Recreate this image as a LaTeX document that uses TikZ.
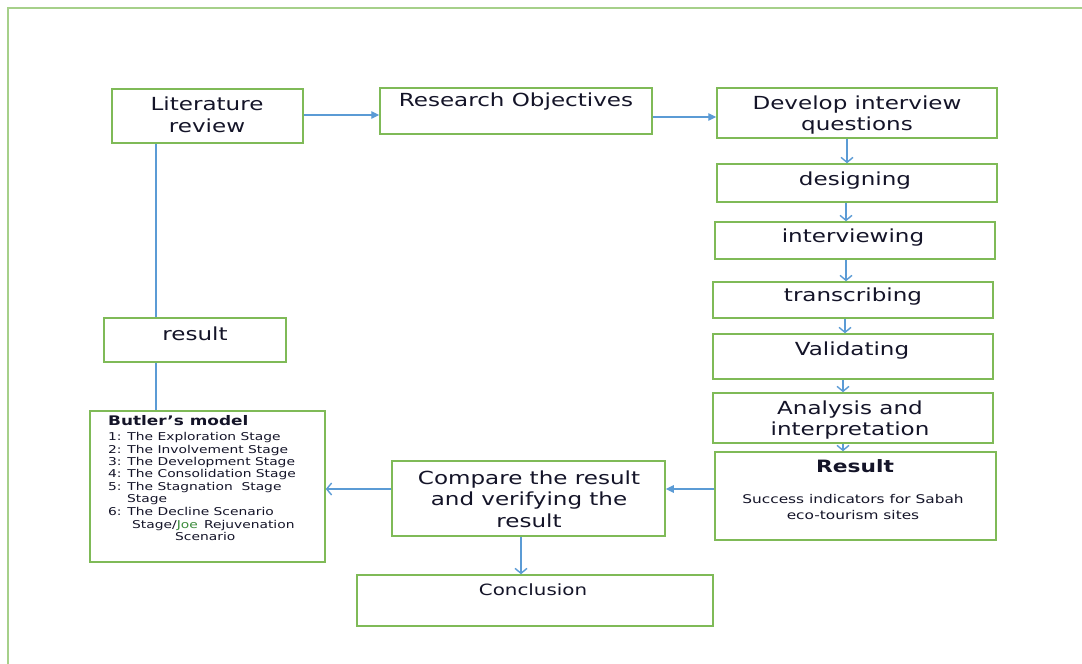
\documentclass[tikz,border=0pt]{standalone}
\usepackage{fontspec}
\setmainfont{DejaVu Sans}[FakeStretch=1.28]
\usetikzlibrary{arrows.meta}
\definecolor{bgreen}{HTML}{7FBA57}
\definecolor{fgreen}{HTML}{A6D08A}
\definecolor{lblue}{HTML}{5B9BD5}
\definecolor{txtc}{HTML}{141428}
\definecolor{jgreen}{HTML}{3C8C3C}
\begin{document}
\begin{tikzpicture}[x=1pt,y=-1pt,
  box/.style={draw=bgreen, line width=1.5pt, rectangle, inner sep=0pt, fill=white},
  lbl/.style={text=txtc, align=center, inner sep=0pt, font=\fontsize{18}{21.5}\selectfont},
  blist/.style={text=txtc, inner sep=0pt, anchor=mid west, font=\fontsize{10.8}{12}\selectfont},
  con/.style={draw=lblue, line width=1.4pt},
  openarr/.style={con, -{Straight Barb[length=5pt,width=12pt]}},
  fillarr/.style={con, -{Triangle[length=8pt,width=7.5pt]}}]
\useasboundingbox (0,0) rectangle (1082,664);
\fill[white] (0,0) rectangle (1082,664);
% outer frame
\draw[fgreen, line width=2pt] (8,664) -- (8,8) -- (1082,8);

% boxes
\node[box, minimum width=191pt, minimum height=54pt] (lit) at (207.5,116) {};
\node[box, minimum width=272pt, minimum height=46pt] (res) at (516,111) {};
\node[box, minimum width=280pt, minimum height=50pt] (dev) at (857,113) {};
\node[box, minimum width=280pt, minimum height=38pt] (des) at (857,183) {};
\node[box, minimum width=280pt, minimum height=37pt] (itv) at (855,240.5) {};
\node[box, minimum width=280pt, minimum height=36pt] (tra) at (853,300) {};
\node[box, minimum width=280pt, minimum height=45pt] (val) at (853,356.5) {};
\node[box, minimum width=280pt, minimum height=50pt] (ana) at (853,418) {};
\node[box, minimum width=281pt, minimum height=88pt] (rsl) at (855.5,496) {};
\node[box, minimum width=273pt, minimum height=75pt] (cmp) at (528.5,498.5) {};
\node[box, minimum width=235pt, minimum height=151pt] (but) at (207.5,486.5) {};
\node[box, minimum width=182pt, minimum height=44pt] (rs2) at (195,340) {};
\node[box, minimum width=356pt, minimum height=51pt] (con) at (535,600.5) {};

% labels
\node[lbl] (litT) at (207,115) {Literature\\review};
\node[lbl] (resT) at (516,102) {Research Objectives};
\node[lbl] (devT) at (857,115) {Develop interview\\questions};
\node[lbl] (desT) at (855,181) {designing};
\node[lbl] (itvT) at (853,238) {interviewing};
\node[lbl] (traT) at (853,297) {transcribing};
\node[lbl] (valT) at (852,351) {Validating};
\node[lbl] (anaT) at (850,420) {Analysis and\\interpretation};
\node[lbl, font=\bfseries\fontsize{17}{20}\selectfont] (rslT) at (855,466) {Result};
\node[lbl, font=\fontsize{12}{16}\selectfont] (rslS) at (853,507) {Success indicators for Sabah\\eco-tourism sites};
\node[lbl] (cmpT) at (529,499) {Compare the result\\and verifying the\\result};
\node[lbl, font=\fontsize{15.5}{18}\selectfont] (conT) at (533,590) {Conclusion};
\node[lbl] (rs2T) at (195,334) {result};

% Butler list
\node[blist, font=\bfseries\fontsize{13.2}{15}\selectfont] (b0) at (108,423) {Butler’s model};
\node[blist] (b1) at (108,438) {1: The Exploration Stage};
\node[blist] (b2) at (108,450.5) {2: The Involvement Stage};
\node[blist] (b3) at (108,462.5) {3: The Development Stage};
\node[blist] (b4) at (108,475) {4: The Consolidation Stage};
\node[blist] (b5) at (108,487.5) {5: The Stagnation\ \ Stage};
\node[blist] (b6) at (127,500) {Stage};
\node[blist] (b7) at (108,513) {6: The Decline Scenario};
\node[blist] (b8) at (132,525.5) {Stage/\textcolor{jgreen}{Joe}\, Rejuvenation};
\node[blist] (b9) at (175,538) {Scenario};

% connector coordinates
\coordinate (xA) at (156,0);
\coordinate (yLR) at (0,115);
\coordinate (yRD) at (0,117);
\coordinate (xD1) at (847,0);
\coordinate (xD2) at (846,0);
\coordinate (xD3) at (846,0);
\coordinate (xD4) at (845,0);
\coordinate (xD5) at (843,0);
\coordinate (xD6) at (843,0);
\coordinate (yC) at (0,489);
\coordinate (xC) at (521,0);

% connectors
\draw[fillarr] (lit.east |- yLR) -- (res.west |- yLR);
\draw[fillarr] (res.east |- yRD) -- (dev.west |- yRD);
\draw[con] (lit.south -| xA) -- (rs2.north -| xA);
\draw[con] (rs2.south -| xA) -- (but.north -| xA);
\draw[openarr] (dev.south -| xD1) -- (des.north -| xD1);
\draw[openarr] (des.south -| xD2) -- (itv.north -| xD2);
\draw[openarr] (itv.south -| xD3) -- (tra.north -| xD3);
\draw[openarr] (tra.south -| xD4) -- (val.north -| xD4);
\draw[openarr] (val.south -| xD5) -- (ana.north -| xD5);
\draw[openarr] (ana.south -| xD6) -- (rsl.north -| xD6);
\draw[fillarr] (rsl.west |- yC) -- (cmp.east |- yC);
\draw[openarr] (cmp.west |- yC) -- (but.east |- yC);
\draw[openarr] (cmp.south -| xC) -- (con.north -| xC);
\end{tikzpicture}
\end{document}
